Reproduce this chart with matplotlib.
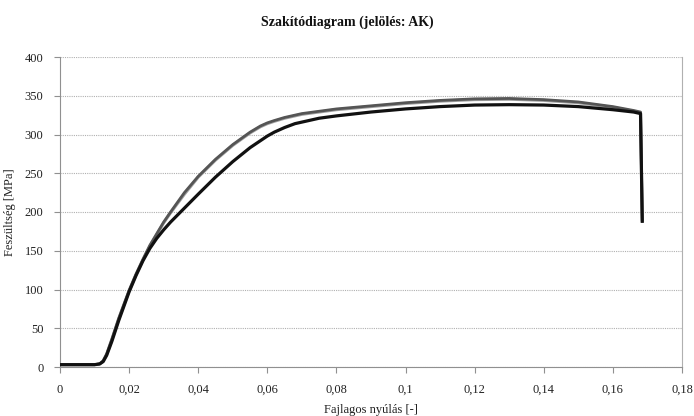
import matplotlib
matplotlib.use("Agg")
import matplotlib.pyplot as plt
from matplotlib.ticker import FixedLocator

# Data
strain_1 = [0, 0.010, 0.0115, 0.0125, 0.0135, 0.015, 0.017, 0.020, 0.022, 0.024, 0.026, 0.028,
            0.030, 0.032, 0.036, 0.040, 0.045, 0.050, 0.055, 0.058, 0.060, 0.062, 0.065,
            0.068, 0.070, 0.075, 0.080, 0.090, 0.100, 0.110, 0.120, 0.130, 0.140, 0.150,
            0.160, 0.166, 0.168, 0.1685]
stress_1 = [3, 3, 4, 7, 15, 33, 60, 97, 118, 137, 153, 166,
            177, 187, 205, 223, 245, 265, 283, 292, 298, 303, 309,
            314, 316, 321, 324, 329, 333, 336, 338, 338.5, 338, 336,
            332, 329, 327, 188]

strain_2 = [0, 0.010, 0.0115, 0.0125, 0.0135, 0.015, 0.017, 0.020, 0.022, 0.024, 0.026, 0.028,
            0.030, 0.032, 0.036, 0.040, 0.045, 0.050, 0.055, 0.058, 0.060, 0.062, 0.065,
            0.068, 0.070, 0.075, 0.080, 0.090, 0.100, 0.110, 0.120, 0.130, 0.140, 0.150,
            0.160, 0.166, 0.168, 0.1685]
stress_2 = [3, 3, 4, 8, 17, 36, 63, 99, 120, 139, 157, 172,
            187, 200, 225, 246, 268, 287, 303, 311, 315, 318, 322,
            325, 327, 330, 333, 337, 341, 344, 346, 346.5, 345, 342,
            336, 331, 329, 190]

strain_3 = [0, 0.010, 0.0115, 0.0125, 0.0135, 0.015, 0.017, 0.020, 0.022, 0.024, 0.026, 0.028,
            0.030, 0.032, 0.036, 0.040, 0.045, 0.050, 0.055, 0.058, 0.060, 0.062, 0.065,
            0.068, 0.070, 0.075, 0.080, 0.090, 0.100, 0.110, 0.120, 0.130, 0.140, 0.150,
            0.160, 0.166, 0.168, 0.1685]
stress_3 = [3, 3, 4, 8, 16, 35, 62, 98, 119, 138, 156, 171,
            186, 199, 223, 245, 267, 286, 302, 310, 314, 317, 321,
            324, 326, 329, 332, 336, 340, 343, 345, 345.5, 344, 341,
            335, 330, 328, 189]

x_ticks = [0, 0.02, 0.04, 0.06, 0.08, 0.1, 0.12, 0.14, 0.16, 0.18]
x_tick_labels = ["0", "0,02", "0,04", "0,06", "0,08", "0,1", "0,12", "0,14", "0,16", "0,18"]
y_ticks = [0, 50, 100, 150, 200, 250, 300, 350, 400]

serif = ["Liberation Serif", "DejaVu Serif"]

fig = plt.figure(figsize=(6.94, 4.16), dpi=100)
ax = fig.add_axes([60 / 694, 49 / 416, 622 / 694, 310 / 416])

ax.plot(strain_3, stress_3, color="#a0a0a0", lw=2.2, zorder=3, solid_joinstyle="round")
ax.plot(strain_2, stress_2, color="#555555", lw=2.0, zorder=4, solid_joinstyle="round")
ax.plot(strain_1, stress_1, color="#111111", lw=2.3, zorder=5, solid_joinstyle="round")

ax.set_xlim(0, 0.18)
ax.set_ylim(0, 400)
ax.xaxis.set_major_locator(FixedLocator(x_ticks))
ax.set_xticklabels(x_tick_labels)
ax.yaxis.set_major_locator(FixedLocator(y_ticks))

ax.grid(axis="y", color="#b0b0b0", linestyle=(0, (1, 1)), linewidth=0.8)
ax.set_axisbelow(True)

ax.spines["top"].set_visible(False)
ax.spines["right"].set_color("#b0b0b0")
ax.spines["right"].set_linestyle((0, (1, 1)))
ax.spines["right"].set_linewidth(0.8)
ax.spines["left"].set_color("#909090")
ax.spines["bottom"].set_color("#909090")

ax.tick_params(axis="both", direction="out", length=4, color="#909090", width=0.8,
               labelsize=9, pad=8)
for lbl in ax.get_xticklabels() + ax.get_yticklabels():
    lbl.set_family(serif)
    lbl.set_color("#222222")

ax.set_xlabel("Fajlagos nyúlás [-]", family=serif, fontsize=9, color="#222222", labelpad=6)
ax.set_ylabel("Feszültség [MPa]", family=serif, fontsize=9, color="#222222", labelpad=6)
fig.suptitle("Szakítódiagram (jelölés: AK)", family=serif, fontsize=10, fontweight="bold",
             y=1 - 22 / 416, va="center", color="#111111")

fig.savefig("out.png", dpi=100, facecolor="white")
